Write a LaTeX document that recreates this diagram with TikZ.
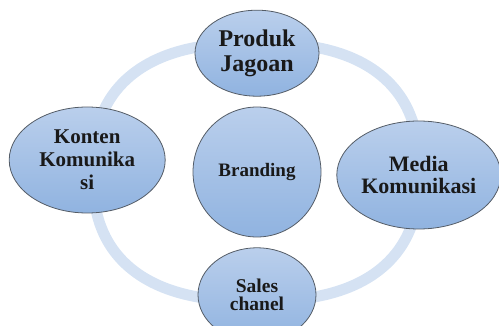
\documentclass[tikz,border=0pt]{standalone}
\usepackage{fontspec}
\setmainfont{Liberation Serif}
\usetikzlibrary{positioning,shapes.geometric}

\definecolor{ringblue}{RGB}{213,226,243}
\definecolor{bubbletop}{RGB}{186,207,236}
\definecolor{bubblebot}{RGB}{144,179,224}
\definecolor{bubbleline}{RGB}{84,92,102}

\begin{document}
\begin{tikzpicture}[
                x=1pt, y=-1pt,
                node distance=10pt,
                bubble/.style={ellipse,draw=bubbleline,line width=0.8pt,top color=bubbletop,bottom color=bubblebot,inner sep=0pt,align=center,text=black!90}
            ]
                \useasboundingbox (0,0) rectangle (499,326);
                % ring behind the bubbles
                \draw[ringblue,line width=11pt] plot[domain=1:361,samples=91,smooth cycle,variable=\t]
                    ({256+163*sign(cos(\t))*pow(abs(cos(\t)),0.8)},{172+129*sign(sin(\t))*pow(abs(sin(\t)),0.8)});
                \node (branding) [bubble,minimum width=128pt,minimum height=130pt,font=\bfseries\fontsize{19}{22}\selectfont] at (257,172) {Branding};
                \node (produk) [bubble,above=of branding,minimum width=124pt,minimum height=86pt,font=\bfseries\fontsize{24}{25}\selectfont] {Produk\\Jagoan};
                \node (sales) [bubble,below=of branding,minimum width=118pt,minimum height=94pt,font=\bfseries\fontsize{19.5}{18.5}\selectfont] {Sales\\chanel};
                \node (konten) [bubble,left=27pt of branding,yshift=12pt,minimum width=156pt,minimum height=106pt,font=\bfseries\fontsize{21}{23}\selectfont] {Konten\\Komunika\\si};
                \node (media) [bubble,right=15pt of branding,yshift=-3pt,minimum width=164pt,minimum height=108pt,font=\bfseries\fontsize{22}{22}\selectfont] {Media\\Komunikasi};
            \end{tikzpicture}
\end{document}
